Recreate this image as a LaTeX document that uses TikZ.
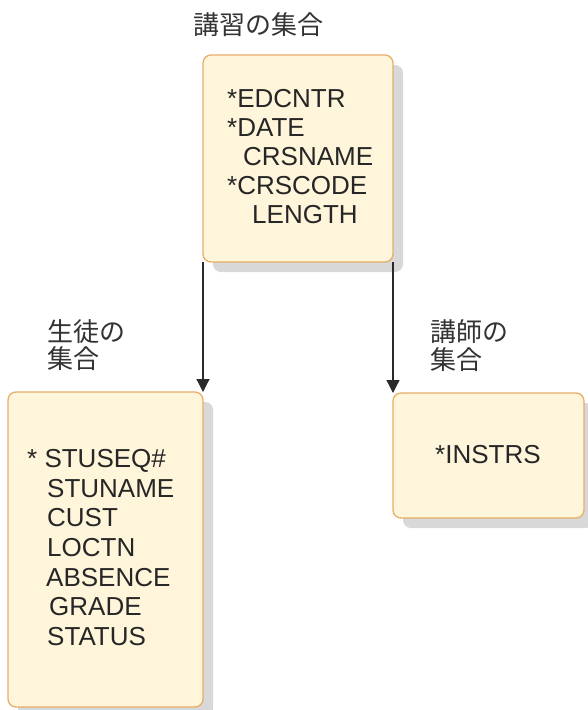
\documentclass[tikz,border=0pt]{standalone}
\usepackage{fontspec}
\setmainfont{Liberation Sans}
\newfontfamily\jpfont{Noto Sans CJK JP}
\usetikzlibrary{arrows.meta,shadows}
\definecolor{segfill}{HTML}{FFF5DB}
\definecolor{segedge}{HTML}{E8AD68}
\definecolor{segshadow}{HTML}{D8D8D8}
\definecolor{lineink}{HTML}{2A2A2A}
\tikzset{
  segbox/.style={draw=segedge, line width=1.3pt, fill=segfill,
    rounded corners=8pt, inner sep=0pt, outer sep=0pt,
    drop shadow={shadow xshift=10pt, shadow yshift=-10pt,
      fill=segshadow, opacity=1}},
  fieldtxt/.style={anchor=base west, inner sep=0pt,
    font=\fontsize{26}{29}\selectfont, text=black!85},
  segname/.style={anchor=west, inner sep=0pt,
    font=\jpfont\fontsize{26}{28}\selectfont, text=black!80},
  parentlink/.style={draw=lineink, line width=1.2pt,
    -{Triangle[width=13pt,length=13pt]}}
}
\begin{document}
\begin{tikzpicture}[x=1pt,y=-1pt]
\useasboundingbox (0,0) rectangle (587,710);

% segments
\node[segbox, minimum width=190pt, minimum height=207pt] (crs) at (298,158.5) {};
\node[segbox, minimum width=195pt, minimum height=315pt] (stu) at (105.5,549.5) {};
\node[segbox, minimum width=191pt, minimum height=125pt] (ins) at (488.5,455.5) {};

% links from the root segment to its children
\draw[parentlink] (crs.south west) -- (stu.north east);
\draw[parentlink] (crs.south east) -- (ins.north west);

% segment names
\node[segname] (crslbl) at (193,25) {講習の集合};
\node[segname] (stulbla) at (47,332) {生徒の};
\node[segname] (stulblb) at (47,359) {集合};
\node[segname] (inslbla) at (430,332) {講師の};
\node[segname] (inslblb) at (430,360) {集合};

% fields of the course segment
\node[fieldtxt] (c1) at (227,107) {*EDCNTR};
\node[fieldtxt] (c2) at (227,136) {*DATE};
\node[fieldtxt] (c3) at (243,165) {CRSNAME};
\node[fieldtxt] (c4) at (227,194) {*CRSCODE};
\node[fieldtxt] (c5) at (252,223) {LENGTH};

% fields of the student segment
\node[fieldtxt] (s1) at (27,467) {* STUSEQ\#};
\node[fieldtxt] (s2) at (47,497) {STUNAME};
\node[fieldtxt] (s3) at (47,526) {CUST};
\node[fieldtxt] (s4) at (47,556) {LOCTN};
\node[fieldtxt] (s5) at (46,586) {ABSENCE};
\node[fieldtxt] (s6) at (49,615) {GRADE};
\node[fieldtxt] (s7) at (47,645) {STATUS};

% field of the instructor segment
\node[fieldtxt] (i1) at (435,463) {*INSTRS};
\end{tikzpicture}
\end{document}
